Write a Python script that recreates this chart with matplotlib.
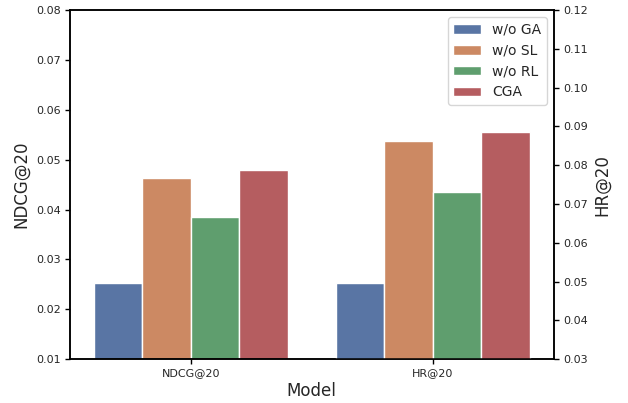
import matplotlib
matplotlib.use("Agg")
import matplotlib.pyplot as plt
import seaborn as sns
import numpy as np

sns.set_style("ticks")
plt.rcParams['font.family'] = ['DejaVu Sans']

groups = ["NDCG@20", "HR@20"]
methods = ["w/o GA", "w/o SL", "w/o RL", "CGA"]
ndcg_vals = [0.0253, 0.0463, 0.0385, 0.0480]
hr_vals = [0.0495, 0.0862, 0.0731, 0.0886]

palette = [sns.desaturate(c, 0.75) for c in sns.color_palette("deep", 4)]

fig = plt.figure(figsize=(6.28, 4.03), dpi=100)
ax1 = fig.add_axes([0.111, 0.109, 0.771, 0.866])
ax2 = ax1.twinx()

width = 0.2
x = np.arange(len(groups))
offsets = (np.arange(len(methods)) - 1.5) * width
handles = []
for i, m in enumerate(methods):
    h = ax1.bar(x[0] + offsets[i], ndcg_vals[i], width, bottom=0,
                color=palette[i], edgecolor="w", linewidth=1, label=m)
    ax2.bar(x[1] + offsets[i], hr_vals[i], width, bottom=0,
            color=palette[i], edgecolor="w", linewidth=1)
    handles.append(h)

ax1.set_xlim(-0.5, 1.5)
ax1.set_ylim(0.01, 0.08)
ax2.set_ylim(0.03, 0.12)
ax1.set_yticks(np.arange(0.01, 0.0801, 0.01))
ax2.set_yticks(np.arange(0.03, 0.1201, 0.01))
ax1.set_xticks(x)
ax1.set_xticklabels(groups)
for ax in (ax1, ax2):
    ax.tick_params(axis='both', labelsize=8, length=3.5, width=1, pad=3,
                   color='black', labelcolor='#262626')
    for s in ax.spines.values():
        s.set_color('black')
        s.set_linewidth(1.1)
ax1.set_ylabel("NDCG@20", fontsize=12)
ax2.set_ylabel("HR@20", fontsize=12)
ax1.set_xlabel("Model", fontsize=12, labelpad=3)

ax2.legend(handles, methods, loc="upper right", fontsize=10)

fig.savefig("out.png", dpi=100)
